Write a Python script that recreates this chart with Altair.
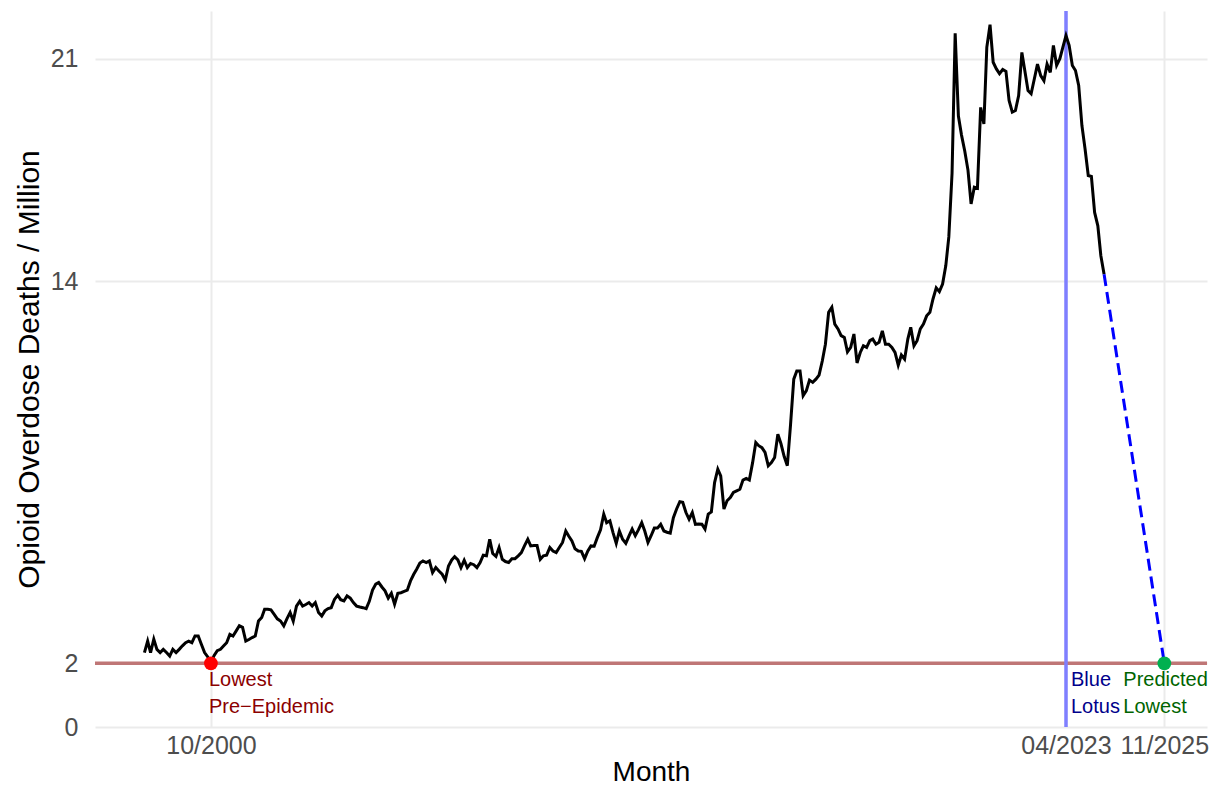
import altair as alt
import pandas as pd

# Monthly opioid overdose deaths per million
d1999 = [2.34, 2.70, 2.34, 2.76, 2.44, 2.34, 2.44, 2.34, 2.23, 2.44, 2.34, 2.44]
d2000 = [2.55, 2.65, 2.70, 2.65, 2.86, 2.86, 2.60, 2.34, 2.20, 2.02, 2.25, 2.40]
d2001 = [2.44, 2.55, 2.65, 2.91, 2.86, 3.02, 3.18, 3.13, 2.70, 2.75, 2.81, 2.86]
d2002 = [3.33, 3.44, 3.70, 3.70, 3.68, 3.54, 3.40, 3.33, 3.18, 3.40, 3.60, 3.33]
d2003 = [3.80, 3.95, 3.80, 3.85, 3.91, 3.80, 3.91, 3.60, 3.49, 3.65, 3.72, 3.75]
d2004 = [4.01, 4.14, 4.00, 3.96, 4.12, 4.05, 3.91, 3.80, 3.77, 3.75, 3.72, 3.95]
d2005 = [4.30, 4.49, 4.54, 4.40, 4.28, 4.05, 4.20, 3.86, 4.20, 4.22, 4.26, 4.30]
d2006 = [4.59, 4.80, 4.96, 5.15, 5.22, 5.17, 5.22, 4.85, 5.01, 4.90, 4.80, 4.62]
d2007 = [5.06, 5.25, 5.35, 5.25, 5.01, 5.24, 5.01, 5.14, 5.10, 5.01, 5.17, 5.40]
d2008 = [5.38, 5.90, 5.45, 5.36, 5.64, 5.27, 5.20, 5.17, 5.29, 5.29, 5.38, 5.48]
d2009 = [5.70, 5.90, 5.69, 5.70, 5.70, 5.27, 5.38, 5.40, 5.64, 5.53, 5.48, 5.64]
d2010 = [5.80, 6.16, 6.00, 5.85, 5.60, 5.53, 5.52, 5.29, 5.53, 5.69, 5.68, 5.95]
d2011 = [6.20, 6.69, 6.42, 6.48, 6.11, 5.77, 6.16, 5.90, 5.77, 6.00, 6.22, 6.01]
d2012 = [6.20, 6.42, 6.16, 5.80, 6.01, 6.25, 6.25, 6.37, 6.16, 6.12, 6.09, 6.58]
d2013 = [6.85, 7.08, 7.06, 6.74, 6.53, 6.74, 6.37, 6.38, 6.37, 6.22, 6.69, 6.76]
d2014 = [7.68, 8.10, 7.89, 6.85, 7.11, 7.21, 7.37, 7.42, 7.47, 7.76, 7.81, 7.76]
d2015 = [8.30, 8.94, 8.84, 8.78, 8.63, 8.21, 8.31, 8.47, 9.20, 8.90, 8.50, 8.21]
d2016 = [9.50, 10.93, 11.19, 11.19, 10.41, 10.57, 10.90, 10.83, 10.93, 11.06, 11.50, 12.03]
d2017 = [13.03, 13.19, 12.66, 12.51, 12.30, 12.24, 11.79, 11.93, 12.35, 11.44, 11.77, 11.98]
d2018 = [11.93, 12.14, 12.19, 12.03, 12.09, 12.45, 12.03, 12.03, 11.93, 11.77, 11.37, 11.69]
d2019 = [11.56, 12.19, 12.56, 11.98, 12.14, 12.51, 12.66, 12.92, 13.03, 13.45, 13.80, 13.68]
d2020 = [13.92, 14.50, 15.40, 17.40, 21.80, 19.20, 18.60, 18.10, 17.50, 16.44, 16.96, 16.93]
d2021 = [19.47, 18.95, 21.36, 22.07, 20.89, 20.68, 20.53, 20.66, 20.60, 19.69, 19.32, 19.37]
d2022 = [19.84, 21.20, 20.63, 20.00, 19.90, 20.37, 20.83, 20.47, 20.31, 20.83, 20.57, 21.42]
d2023 = [20.79, 21.00, 21.35, 21.73, 21.42, 20.79, 20.63, 20.16, 18.90, 18.17, 17.33, 17.30]
d2024 = [16.17, 15.75, 14.81, 14.23]

yearly = {
    1999: d1999, 2000: d2000, 2001: d2001, 2002: d2002, 2003: d2003, 2004: d2004,
    2005: d2005, 2006: d2006, 2007: d2007, 2008: d2008, 2009: d2009, 2010: d2010,
    2011: d2011, 2012: d2012, 2013: d2013, 2014: d2014, 2015: d2015, 2016: d2016,
    2017: d2017, 2018: d2018, 2019: d2019, 2020: d2020, 2021: d2021, 2022: d2022,
    2023: d2023, 2024: d2024,
}

# Key events
lowest_pre_epidemic_date = "2000-10-01"
blue_lotus_date = "2023-04-01"
predicted_lowest_date = "2025-11-01"
baseline_value = 2

y_ticks = [0, 2, 14, 21]

rows = []
for yr, vals in yearly.items():
    for i, v in enumerate(vals):
        rows.append({"month": f"{yr}-{i + 1:02d}-01", "deaths": v})
df = pd.DataFrame(rows)

last = rows[-1]
proj_df = pd.DataFrame([
    {"month": last["month"], "deaths": last["deaths"]},
    {"month": predicted_lowest_date, "deaths": baseline_value},
])

red_df = pd.DataFrame([{"month": lowest_pre_epidemic_date, "deaths": baseline_value}])
green_df = pd.DataFrame([{"month": predicted_lowest_date, "deaths": baseline_value}])
one_row = pd.DataFrame([{"k": 0}])

x_domain = [
    alt.DateTime(year=1997, month=9, date=13, utc=True),
    alt.DateTime(year=2026, month=12, date=16, utc=True),
]
x_values = [
    alt.DateTime(year=2000, month=10, date=1, utc=True),
    alt.DateTime(year=2023, month=4, date=1, utc=True),
    alt.DateTime(year=2025, month=11, date=1, utc=True),
]

x_scale = alt.Scale(type="utc", domain=x_domain)
y_scale = alt.Scale(domain=[0, 22.5], nice=False, zero=False)

x_axis = alt.Axis(
    values=x_values, labelExpr="utcFormat(datum.value, '%m/%Y')", title="Month",
    labelFontSize=25, labelColor="#4D4D4D", labelPadding=6,
    titleFontSize=28, titleFontWeight="normal", titleColor="black",
    titleBaseline="alphabetic", titleY=53,
    grid=True, gridColor="#EBEBEB", gridWidth=2, domain=False, ticks=False, tickSize=0,
    labelFont="Liberation Sans", titleFont="Liberation Sans",
)
y_axis = alt.Axis(
    values=y_ticks, title="Opioid Overdose Deaths / Million",
    labelFontSize=25, labelColor="#4D4D4D", labelPadding=17,
    titleFontSize=30, titleFontWeight="normal", titleColor="black", titlePadding=6,
    grid=True, gridColor="#EBEBEB", gridWidth=2, domain=False, ticks=False, tickSize=0,
    labelFont="Liberation Sans", titleFont="Liberation Sans",
)

X = dict(scale=x_scale, axis=x_axis)
Y = dict(scale=y_scale, axis=y_axis)

hrule = alt.Chart(one_row).mark_rule(color="#BF7676", strokeWidth=3.5).encode(
    y=alt.Y(datum=baseline_value, type="quantitative", **Y),
)
vrule = alt.Chart(one_row).mark_rule(color="#7F7FFF", strokeWidth=3.5).encode(
    x=alt.X(datum=x_values[1], type="temporal", **X),
)

main = alt.Chart(df).mark_line(color="black", strokeWidth=3).encode(
    x=alt.X("month:T", **X),
    y=alt.Y("deaths:Q", **Y),
)

proj = alt.Chart(proj_df).mark_line(color="#0000FF", strokeWidth=3, strokeDash=[12, 6]).encode(
    x=alt.X("month:T", **X),
    y=alt.Y("deaths:Q", **Y),
)

red_pt = alt.Chart(red_df).mark_point(filled=True, opacity=1, size=190, color="#FF0000").encode(
    x=alt.X("month:T", **X),
    y=alt.Y("deaths:Q", **Y),
)
green_pt = alt.Chart(green_df).mark_point(filled=True, opacity=1, size=190, color="#00B050").encode(
    x=alt.X("month:T", **X),
    y=alt.Y("deaths:Q", **Y),
)


def label(date_dt, text, color, dx, dy):
    return alt.Chart(one_row).mark_text(
        text=text, color=color, align="left", baseline="middle",
        fontSize=20, font="Liberation Sans", dx=dx, dy=dy,
    ).encode(
        x=alt.X(datum=date_dt, type="temporal", **X),
        y=alt.Y(datum=baseline_value, type="quantitative", **Y),
    )


labels = [
    label(x_values[0], "Lowest", "#8B0000", -2, 17),
    label(x_values[0], "Pre\u2212Epidemic", "#8B0000", -2, 44),
    label(x_values[1], "Blue", "#00008B", 5, 17),
    label(x_values[1], "Lotus", "#00008B", 5, 44),
    label(x_values[2], "Predicted", "#006400", -41, 17),
    label(x_values[2], "Lowest", "#006400", -41, 44),
]

chart = alt.layer(
    hrule, vrule, main, proj, red_pt, green_pt, *labels
).properties(
    width=1112, height=716,
    autosize=alt.AutoSizeParams(type="none"),
    padding={"left": 87, "top": 3, "right": 2, "bottom": 59},
    background="white",
).configure_view(stroke=None)

chart.save("out.html", embed_options={"renderer": "svg", "actions": False})
